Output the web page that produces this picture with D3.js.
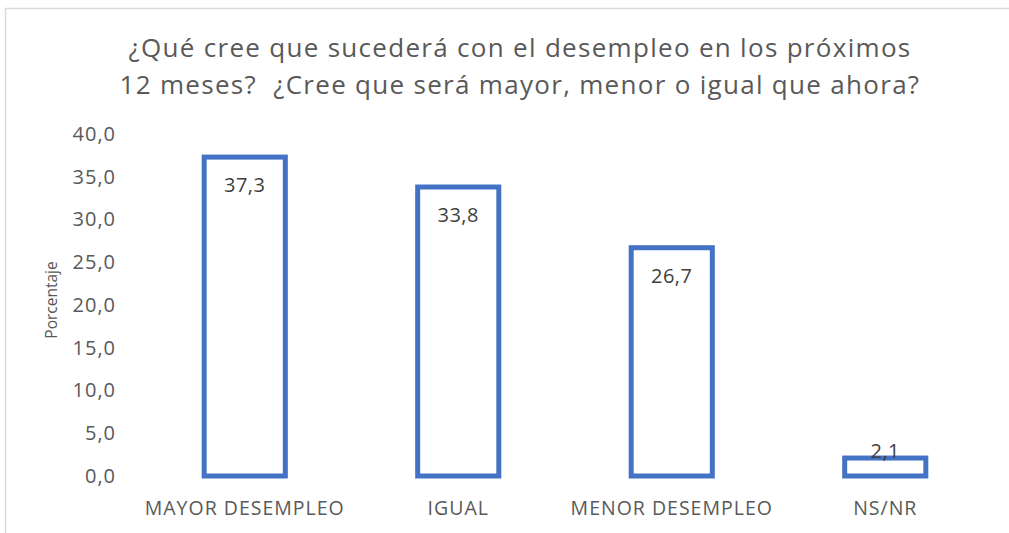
<!DOCTYPE html>
<html><head><meta charset="utf-8">
<script src="https://cdn.jsdelivr.net/npm/d3@7"></script>
<style>body{margin:0;background:#fff}svg{display:block}text{font-family:"Open Sans",sans-serif;white-space:pre}</style>
</head><body>
<svg id="c" width="1009" height="533"></svg>
<script>
const categories = ["MAYOR DESEMPLEO", "IGUAL", "MENOR DESEMPLEO", "NS/NR"];
const values = [37.3, 33.8, 26.7, 2.1];
const yTicks = [0, 5, 10, 15, 20, 25, 30, 35, 40];
const titleLines = ["¿Qué cree que sucederá con el desempleo en los próximos", "12 meses?  ¿Cree que será mayor, menor o igual que ahora?"];
const yLabel = "Porcentaje";

const svg = d3.select("#c");
const fmt = v => v.toFixed(1).replace(".", ",");
const FONT = "'Open Sans',sans-serif";

svg.append("rect").attr("x", 5.5).attr("y", 8.5).attr("width", 1100).attr("height", 600)
  .attr("fill", "none").attr("stroke", "#D9D9D9").attr("stroke-width", 1.5);

const x = d3.scaleBand().domain(categories).range([138, 992]).paddingInner(0.62).paddingOuter(0.31);
const y = d3.scaleLinear().domain([0, 40]).range([476, 134]);

svg.append("g").selectAll("text").data(titleLines).join("text")
  .attr("x", 520).attr("y", (d, i) => 57 + i * 37)
  .attr("text-anchor", "middle").attr("fill", "#595959").attr("font-size", 26)
  .attr("letter-spacing", 1.3)
  .text(d => d);

const yAxis = d3.axisLeft(y).tickValues(yTicks).tickFormat(fmt).tickSize(0).tickPadding(0);
const gy = svg.append("g").attr("transform", "translate(116,0)").call(yAxis);
gy.select(".domain").remove();
gy.selectAll("text").attr("fill", "#595959").attr("font-size", 20).attr("letter-spacing", 1)
  .attr("font-family", FONT);

svg.append("text").attr("transform", "translate(57,300) rotate(-90)")
  .attr("text-anchor", "middle").attr("fill", "#595959").attr("font-size", 15.5).text(yLabel);

const xAxis = d3.axisBottom(x).tickSize(0).tickPadding(0);
const gx = svg.append("g").attr("transform", "translate(0,515)").call(xAxis);
gx.select(".domain").remove();
gx.selectAll("text").attr("dy", 0).attr("y", 0).attr("fill", "#595959").attr("font-size", 19.5)
  .attr("letter-spacing", 1).attr("font-family", FONT);

svg.append("g").selectAll("rect").data(values).join("rect")
  .attr("x", (d, i) => x(categories[i])).attr("width", x.bandwidth())
  .attr("y", d => y(d)).attr("height", d => y(0) - y(d))
  .attr("fill", "#fff").attr("stroke", "#4472C4").attr("stroke-width", 5);

svg.append("g").selectAll("text").data(values).join("text")
  .attr("x", (d, i) => x(categories[i]) + x.bandwidth() / 2)
  .attr("y", d => Math.min(y(d) + 35, y(0) - 18))
  .attr("text-anchor", "middle").attr("fill", "#404040").attr("font-size", 20).attr("letter-spacing", 0.5)
  .text(d => fmt(d));
</script>
</body></html>
